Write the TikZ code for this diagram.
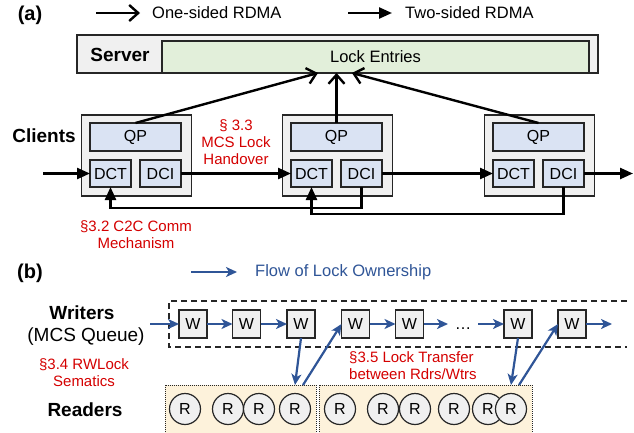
\documentclass[tikz,border=0pt]{standalone}
\usepackage{fontspec}
\setmainfont{Liberation Sans}
\usepackage{xcolor}
\usepackage{tikz}
\usetikzlibrary{arrows.meta, positioning}

\definecolor{boxgrey}{HTML}{F0F0F0}
\definecolor{entrygreen}{HTML}{E2EFDA}
\definecolor{qpblue}{HTML}{DAE3F3}
\definecolor{flowblue}{HTML}{2F5597}
\definecolor{secred}{HTML}{D40000}
\definecolor{rdrtan}{HTML}{FDF2DB}
\definecolor{linegrey}{HTML}{262626}

\begin{document}
\begin{tikzpicture}[x=1pt, y=-1pt,
    box/.style={draw=linegrey, line width=1.2pt, inner sep=0pt, outer sep=0pt},
    client/.style={box, fill=boxgrey, minimum width=110pt, minimum height=81pt},
    qp/.style={box, fill=qpblue, minimum width=91pt, minimum height=28pt, font=\fontsize{16}{18}\selectfont},
    dc/.style={box, fill=qpblue, minimum width=41pt, minimum height=27pt, font=\fontsize{16}{18}\selectfont},
    wbox/.style={box, fill=boxgrey, minimum size=28pt, font=\fontsize{16}{18}\selectfont},
    rcirc/.style={circle, draw=linegrey, line width=1.2pt, fill=boxgrey, minimum size=31pt, inner sep=0pt, font=\fontsize{16}{18}\selectfont},
    onesided/.style={line width=2.4pt, -{Straight Barb[length=9pt,width=16pt]}},
    twosided/.style={line width=2.4pt, -{Triangle[length=13pt,width=11pt]}},
    flow/.style={flowblue, line width=2.2pt, -{Stealth[length=11pt,width=10pt,inset=3pt]}},
    sect/.style={secred, align=center, inner sep=0pt, font=\fontsize{15}{17}\selectfont},
    lbl/.style={inner sep=0pt, font=\bfseries\fontsize{19}{21}\selectfont},
    legendtext/.style={inner sep=0pt, font=\fontsize{16.5}{18}\selectfont}]
  \useasboundingbox (0,0) rectangle (634,433);

  % legend (a)
  \node[lbl, font=\bfseries\fontsize{20}{22}\selectfont] (parta) at (30,15) {(a)};
  \coordinate (os1) at (96,13);
  \coordinate (os2) at (140,13);
  \draw[onesided] (os1) -- (os2);
  \node[legendtext, anchor=west] (ostext) at (152,13) {One-sided RDMA};
  \coordinate (ts1) at (348,13);
  \coordinate (ts2) at (392,13);
  \draw[twosided] (ts1) -- (ts2);
  \node[legendtext, anchor=west] (tstext) at (405,13) {Two-sided RDMA};

  % server
  \node[box, fill=boxgrey, minimum width=521pt, minimum height=38pt] (server) at (337.5,54) {};
  \node[box, fill=entrygreen, minimum width=427pt, minimum height=32pt, legendtext] (lock) at (375.5,57) {Lock Entries};
  \node[lbl] (srvtext) at (120,55) {Server};

  % clients
  \node[lbl] (clitext) at (44,136) {Clients};
  \foreach \n/\x in {1/136.5, 2/337.5, 3/539.5}{
    \node[client] (c\n) at (\x,155.5) {};
    \node[qp] (qp\n) at (\x-1,137) {QP};
    \node[dc] (dct\n) at (\x-26,173.5) {DCT};
    \node[dc] (dci\n) at (\x+24,173.5) {DCI};
  }

  % one-sided to lock entries
  \draw[onesided] (qp1.north) -- ([xshift=-57.5pt]lock.south);
  \draw[onesided] (qp2.north) -- (qp2.north |- lock.south);
  \draw[onesided] (qp3.north) -- ([xshift=-23.5pt]lock.south);

  % handover chain
  \coordinate (cin) at (43,173.5);
  \coordinate (cout) at (633,173.5);
  \draw[twosided] (cin) -- (dct1);
  \draw[twosided] (dci1) -- (dct2);
  \draw[twosided] (dci2) -- (dct3);
  \draw[twosided] (dci3) -- (cout);

  % back loops
  \draw[twosided] (dci2.south) -- ++(0,21) -| (dct1.south);
  \draw[twosided] (dci3.south) -- ++(0,27) -| (dct2.south);

  \node[sect] (sec33) at (236,142) {§ 3.3\\MCS Lock\\Handover};
  \node[sect] (sec32) at (136,234.5) {§3.2 C2C Comm\\Mechanism};

  % legend (b)
  \node[lbl, font=\bfseries\fontsize{20}{22}\selectfont] (partb) at (30,273) {(b)};
  \coordinate (fl1) at (191,272);
  \coordinate (fl2) at (237,272);
  \draw[flow] (fl1) -- (fl2);
  \node[legendtext, flowblue, anchor=west] (fltext) at (255,272) {Flow of Lock Ownership};

  % left labels
  \node[lbl] (wrtext) at (82,313) {Writers};
  \node[legendtext, font=\fontsize{19}{21}\selectfont] (mcstext) at (86,337) {(MCS Queue)};
  \node[sect] (sec34) at (84,372.5) {§3.4 RWLock\\Sematics};
  \node[lbl] (rdtext) at (85,410) {Readers};

  % writer queue
  \draw[linegrey, line width=1.3pt, dash pattern=on 6pt off 4pt] (627,301) -- (169,301) -- (169,347) -- (627,347);
  \foreach \n/\x in {1/193, 2/246.5, 3/301, 4/355.5, 5/409.5, 6/518, 7/572}{
    \node[wbox] (w\n) at (\x,324) {W};
  }
  \node[legendtext] (dots) at (463,329) {\dots};
  \coordinate (win) at (150,324);
  \coordinate (wgap1) at (448,324);
  \coordinate (wgap2) at (478,324);
  \coordinate (wout) at (612,324);
  \draw[flow] (win) -- (w1);
  \draw[flow] (w1) -- (w2);
  \draw[flow] (w2) -- (w3);
  \draw[flow] (w4) -- (w5);
  \draw[flow] (w5) -- (wgap1);
  \draw[flow] (wgap2) -- (w6);
  \draw[flow] (w7) -- (wout);

  % reader groups
  \node[box, fill=rdrtan, line width=1pt, dash pattern=on 1pt off 1pt, minimum width=151pt, minimum height=48pt] (rb1) at (240.5,409) {};
  \node[box, fill=rdrtan, line width=1pt, dash pattern=on 1pt off 1pt, minimum width=213pt, minimum height=48pt] (rb2) at (425.5,409) {};
  \foreach \n/\x in {1/185, 2/228, 3/259, 4/295, 5/340, 6/383, 7/415, 8/454, 9/488, 10/511}{
    \node[rcirc] (r\n) at (\x,409) {R};
  }

  % transfer between readers and writers
  \coordinate (rt4) at (r4 |- rb1.north);
  \coordinate (rt10) at (r10 |- rb2.north);
  \draw[flow] (w3.south) -- (rt4);
  \draw[flow] ([xshift=8pt]rt4) -- (w4.west);
  \draw[flow] (w6.south) -- (rt10);
  \draw[flow] ([xshift=8pt]rt10) -- (w7.west);
  \node[sect, align=left, anchor=west] (sec35) at (349,366) {§3.5 Lock Transfer\\between Rdrs/Wtrs};
\end{tikzpicture}
\end{document}
